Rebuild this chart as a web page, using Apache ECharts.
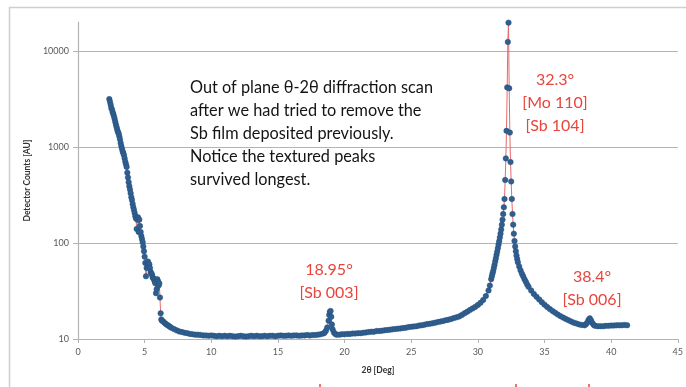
<!DOCTYPE html>
<html>
<head>
<meta charset="utf-8">
<script src="https://cdn.jsdelivr.net/npm/echarts@6/dist/echarts.min.js"></script>
<style>
  html, body { margin: 0; padding: 0; background: #ffffff; }
  #chart { width: 686px; height: 387px; }
</style>
</head>
<body>
<div id="chart"></div>
<script>
// X-ray scan, [2θ (deg), detector counts]

// Low-angle tail with the small features below 6.3°
const scanLowAngle = [
  [2.35, 3150], [2.40, 2950], [2.45, 2750], [2.50, 2550], [2.55, 2450], [2.60, 2300],
  [2.65, 2200], [2.70, 2080], [2.75, 1950], [2.80, 1820], [2.85, 1700], [2.90, 1600],
  [2.95, 1500], [3.00, 1430], [3.05, 1380], [3.10, 1290], [3.15, 1200], [3.20, 1100],
  [3.25, 1020], [3.30, 960], [3.35, 900], [3.40, 860], [3.45, 820], [3.50, 760],
  [3.55, 700], [3.60, 660], [3.65, 620], [3.70, 540], [3.75, 480], [3.80, 430],
  [3.85, 390], [3.90, 360], [3.95, 330], [4.00, 300], [4.05, 280], [4.10, 255],
  [4.15, 235], [4.20, 220], [4.25, 205], [4.30, 190], [4.35, 180], [4.40, 140],
  [4.45, 175], [4.50, 185], [4.55, 130], [4.60, 175], [4.65, 150], [4.70, 130],
  [4.75, 118], [4.80, 110], [4.85, 102], [4.90, 92], [4.95, 82], [5.00, 72],
  [5.05, 62], [5.10, 45], [5.15, 55], [5.20, 63], [5.25, 64], [5.30, 58],
  [5.35, 60], [5.40, 55], [5.45, 50], [5.50, 48], [5.55, 47], [5.60, 44],
  [5.65, 43], [5.70, 42], [5.75, 40], [5.80, 38], [5.85, 30], [5.90, 33],
  [5.95, 42], [6.00, 40], [6.05, 36], [6.10, 38], [6.15, 27], [6.20, 18.5],
  [6.25, 16], [6.30, 15.5]
];

// Flat background up to the Sb (003) reflection
const scanBackground = [
  [6.4, 15.2], [6.5, 14.7], [6.6, 14.3], [6.7, 14.0], [6.8, 13.7], [6.9, 13.4],
  [7.0, 13.1], [7.2, 12.7], [7.4, 12.3], [7.6, 12.0], [7.8, 11.8], [8.0, 11.6],
  [8.2, 11.5], [8.4, 11.3], [8.6, 11.2], [8.8, 11.1], [9.0, 11.1], [9.2, 11.0],
  [9.4, 10.9], [9.6, 10.9], [9.8, 10.8], [10.0, 10.9], [10.2, 10.8], [10.4, 10.7],
  [10.6, 10.8], [10.8, 10.7], [11.0, 10.8], [11.2, 10.7], [11.4, 10.8], [11.6, 10.7],
  [11.8, 10.6], [12.0, 10.7], [12.2, 10.8], [12.4, 10.7], [12.6, 10.6], [12.8, 10.7],
  [13.0, 10.8], [13.2, 10.7], [13.4, 10.8], [13.6, 10.7], [13.8, 10.7], [14.0, 10.8],
  [14.2, 10.7], [14.4, 10.8], [14.6, 10.8], [14.8, 10.7], [15.0, 10.8], [15.2, 10.9],
  [15.4, 10.8], [15.6, 10.8], [15.8, 10.9], [16.0, 10.8], [16.2, 10.9], [16.4, 10.9],
  [16.6, 10.8], [16.8, 10.9], [17.0, 10.9], [17.2, 11.0], [17.4, 10.9], [17.6, 11.0],
  [17.8, 11.0], [18.0, 11.1], [18.2, 11.2], [18.4, 11.4], [18.5, 11.6]
];

// Sb (003) at 18.95°
const scanSb003 = [
  [18.6, 12.2], [18.7, 13.2], [18.8, 15.5], [18.85, 17.8], [18.9, 19.2], [18.95, 19.6],
  [19.0, 17.0], [19.05, 14.2], [19.1, 12.6], [19.2, 11.7], [19.3, 11.3], [19.4, 11.1]
];

// Rising background towards the main reflection
const scanRising = [
  [19.6, 11.1], [19.8, 11.2], [20.0, 11.2], [20.2, 11.3], [20.4, 11.3], [20.6, 11.4],
  [20.8, 11.4], [21.0, 11.5], [21.2, 11.5], [21.4, 11.6], [21.6, 11.7], [21.8, 11.8],
  [22.0, 11.9], [22.2, 11.9], [22.4, 12.1], [22.6, 12.1], [22.8, 12.2], [23.0, 12.3],
  [23.2, 12.4], [23.4, 12.5], [23.6, 12.6], [23.8, 12.7], [24.0, 12.8], [24.2, 12.9],
  [24.4, 13.0], [24.6, 13.1], [24.8, 13.3], [25.0, 13.4], [25.2, 13.5], [25.4, 13.6],
  [25.6, 13.8], [25.8, 13.9], [26.0, 14.1], [26.2, 14.3], [26.4, 14.4], [26.6, 14.6],
  [26.8, 14.8], [27.0, 15.0], [27.2, 15.2], [27.4, 15.4], [27.6, 15.7], [27.8, 15.9],
  [28.0, 16.2], [28.2, 16.5], [28.4, 16.8], [28.6, 17.2], [28.8, 17.8], [29.0, 18.5],
  [29.2, 19.2], [29.4, 20.0], [29.6, 20.8], [29.8, 21.6], [30.0, 22.6], [30.2, 23.8],
  [30.4, 25.5], [30.6, 28.0], [30.8, 32.0], [30.9, 36], [31.0, 42], [31.05, 45],
  [31.1, 48], [31.15, 51], [31.2, 55], [31.25, 59], [31.3, 64], [31.35, 69],
  [31.4, 75], [31.45, 81], [31.5, 88], [31.55, 96], [31.6, 104], [31.65, 114],
  [31.7, 125], [31.75, 138], [31.8, 155], [31.85, 175], [31.9, 200], [31.95, 235]
];

// Mo (110) / Sb (104) at 32.3°
const scanMainPeak = [
  [32.0, 287], [32.05, 453], [32.1, 760], [32.15, 1470], [32.2, 4170], [32.25, 12400],
  [32.3, 19700], [32.35, 4080], [32.4, 1410], [32.45, 695], [32.5, 437], [32.55, 287],
  [32.6, 200], [32.65, 155], [32.7, 125], [32.75, 105], [32.8, 92], [32.85, 82],
  [32.9, 74], [32.95, 68], [33.0, 63], [33.1, 57],
  [33.2, 52], [33.3, 48], [33.4, 45], [33.5, 42], [33.6, 39.5], [33.7, 37],
  [33.8, 35], [34.0, 32], [34.2, 29.5], [34.4, 27.5], [34.6, 25.8], [34.8, 24.2],
  [35.0, 22.8], [35.2, 21.6], [35.4, 20.5], [35.6, 19.6], [35.8, 18.8], [36.0, 18.0],
  [36.2, 17.3], [36.4, 16.7], [36.6, 16.2], [36.8, 15.7], [37.0, 15.2], [37.2, 14.8],
  [37.4, 14.5], [37.6, 14.2], [37.8, 14.0], [38.0, 13.9]
];

// Sb (006) at 38.4° and the end of the scan
const scanSb006 = [
  [38.1, 14.2], [38.2, 14.8], [38.3, 15.8], [38.4, 16.4], [38.5, 15.6], [38.6, 14.6],
  [38.7, 14.0], [38.8, 13.7], [39.0, 13.6], [39.2, 13.6], [39.4, 13.6], [39.6, 13.7],
  [39.8, 13.7], [40.0, 13.8], [40.2, 13.8], [40.4, 13.9], [40.6, 13.9], [40.8, 13.9],
  [41.0, 14.0], [41.2, 13.9]
];

const xTicks = { min: 0, max: 45, step: 5 };
const yRange = { min: 10, max: 20000 };

const noteLines = [
  'Out of plane θ-2θ diffraction scan',
  'after we had tried to remove the',
  'Sb film deposited previously.',
  'Notice the textured peaks',
  'survived longest.'
];
const peakNotes = [
  { lines: ['18.95°', '[Sb 003]'], x: 329, y: 258 },
  { lines: ['32.3°', '[Mo 110]', '[Sb 104]'], x: 555, y: 68 },
  { lines: ['38.4°', '[Sb 006]'], x: 592, y: 265 }
];

const scan = [].concat(scanLowAngle, scanBackground, scanSb003, scanRising, scanMainPeak, scanSb006);

const axisGray = '#b4b4b4';
const labelGray = '#595959';
const noteRed = '#e8453c';
const FONT = 'Lato, "Open Sans", sans-serif';

const graphics = [
  {
    type: 'rect', silent: true,
    shape: { x: 9.5, y: 7.5, width: 700, height: 400 },
    style: { fill: 'none', stroke: '#cfcfcf', lineWidth: 1.5 }
  },
  {
    type: 'text', left: 190, top: 76.5, silent: true,
    style: { text: noteLines.join('\n'), font: '16.3px ' + FONT, fill: '#141414', lineHeight: 23 }
  }
];
peakNotes.forEach(function (n) {
  graphics.push({
    type: 'text', silent: true, x: n.x, y: n.y,
    style: { text: n.lines.join('\n'), font: '16px ' + FONT, fill: noteRed,
             align: 'center', verticalAlign: 'top', lineHeight: 23 }
  });
});
// cut-off red marks along the bottom edge
[320, 516, 589].forEach(function (x) {
  graphics.push({
    type: 'line', silent: true,
    shape: { x1: x, y1: 384, x2: x, y2: 387 },
    style: { stroke: noteRed, lineWidth: 1.5 }
  });
});

const chart = echarts.init(document.getElementById('chart'), null, { renderer: 'canvas' });
chart.setOption({
  animation: false,
  backgroundColor: '#ffffff',
  grid: { left: 78, right: 7, top: 22, bottom: 48 },
  xAxis: {
    type: 'value',
    min: xTicks.min, max: xTicks.max, interval: xTicks.step,
    name: '2θ [Deg]', nameLocation: 'middle', nameGap: 27,
    nameTextStyle: { fontFamily: FONT, fontSize: 8.5, fontWeight: 'bold', color: '#333' },
    axisLine: { lineStyle: { color: axisGray, width: 1.2 } },
    axisTick: { show: true, length: 4, lineStyle: { color: axisGray } },
    axisLabel: { fontFamily: FONT, fontSize: 9, color: labelGray, margin: 9 },
    splitLine: { show: false }
  },
  yAxis: {
    type: 'log', logBase: 10,
    min: yRange.min, max: yRange.max,
    name: 'Detector Counts [AU]', nameLocation: 'middle', nameGap: 39,
    nameTextStyle: { fontFamily: FONT, fontSize: 8.5, fontWeight: 'bold', color: '#333' },
    axisLine: { show: true, lineStyle: { color: axisGray, width: 1.2 } },
    axisTick: { show: true, length: 5, lineStyle: { color: axisGray } },
    axisLabel: {
      fontFamily: FONT, fontSize: 9, color: labelGray, margin: 9,
      showMaxLabel: false,
      formatter: function (v) { return String(Math.round(v)); }
    },
    splitLine: { show: true, showMinLine: false, showMaxLine: false,
                 lineStyle: { color: axisGray, width: 1.2 } }
  },
  series: [{
    type: 'line',
    data: scan,
    symbol: 'circle',
    symbolSize: 5.5,
    showSymbol: true,
    itemStyle: { color: '#2f5e8f', borderColor: '#24507f', borderWidth: 0.5 },
    lineStyle: { color: '#e46a6a', width: 1 },
    emphasis: { disabled: true },
    z: 3
  }],
  graphic: graphics
});
</script>
</body>
</html>
